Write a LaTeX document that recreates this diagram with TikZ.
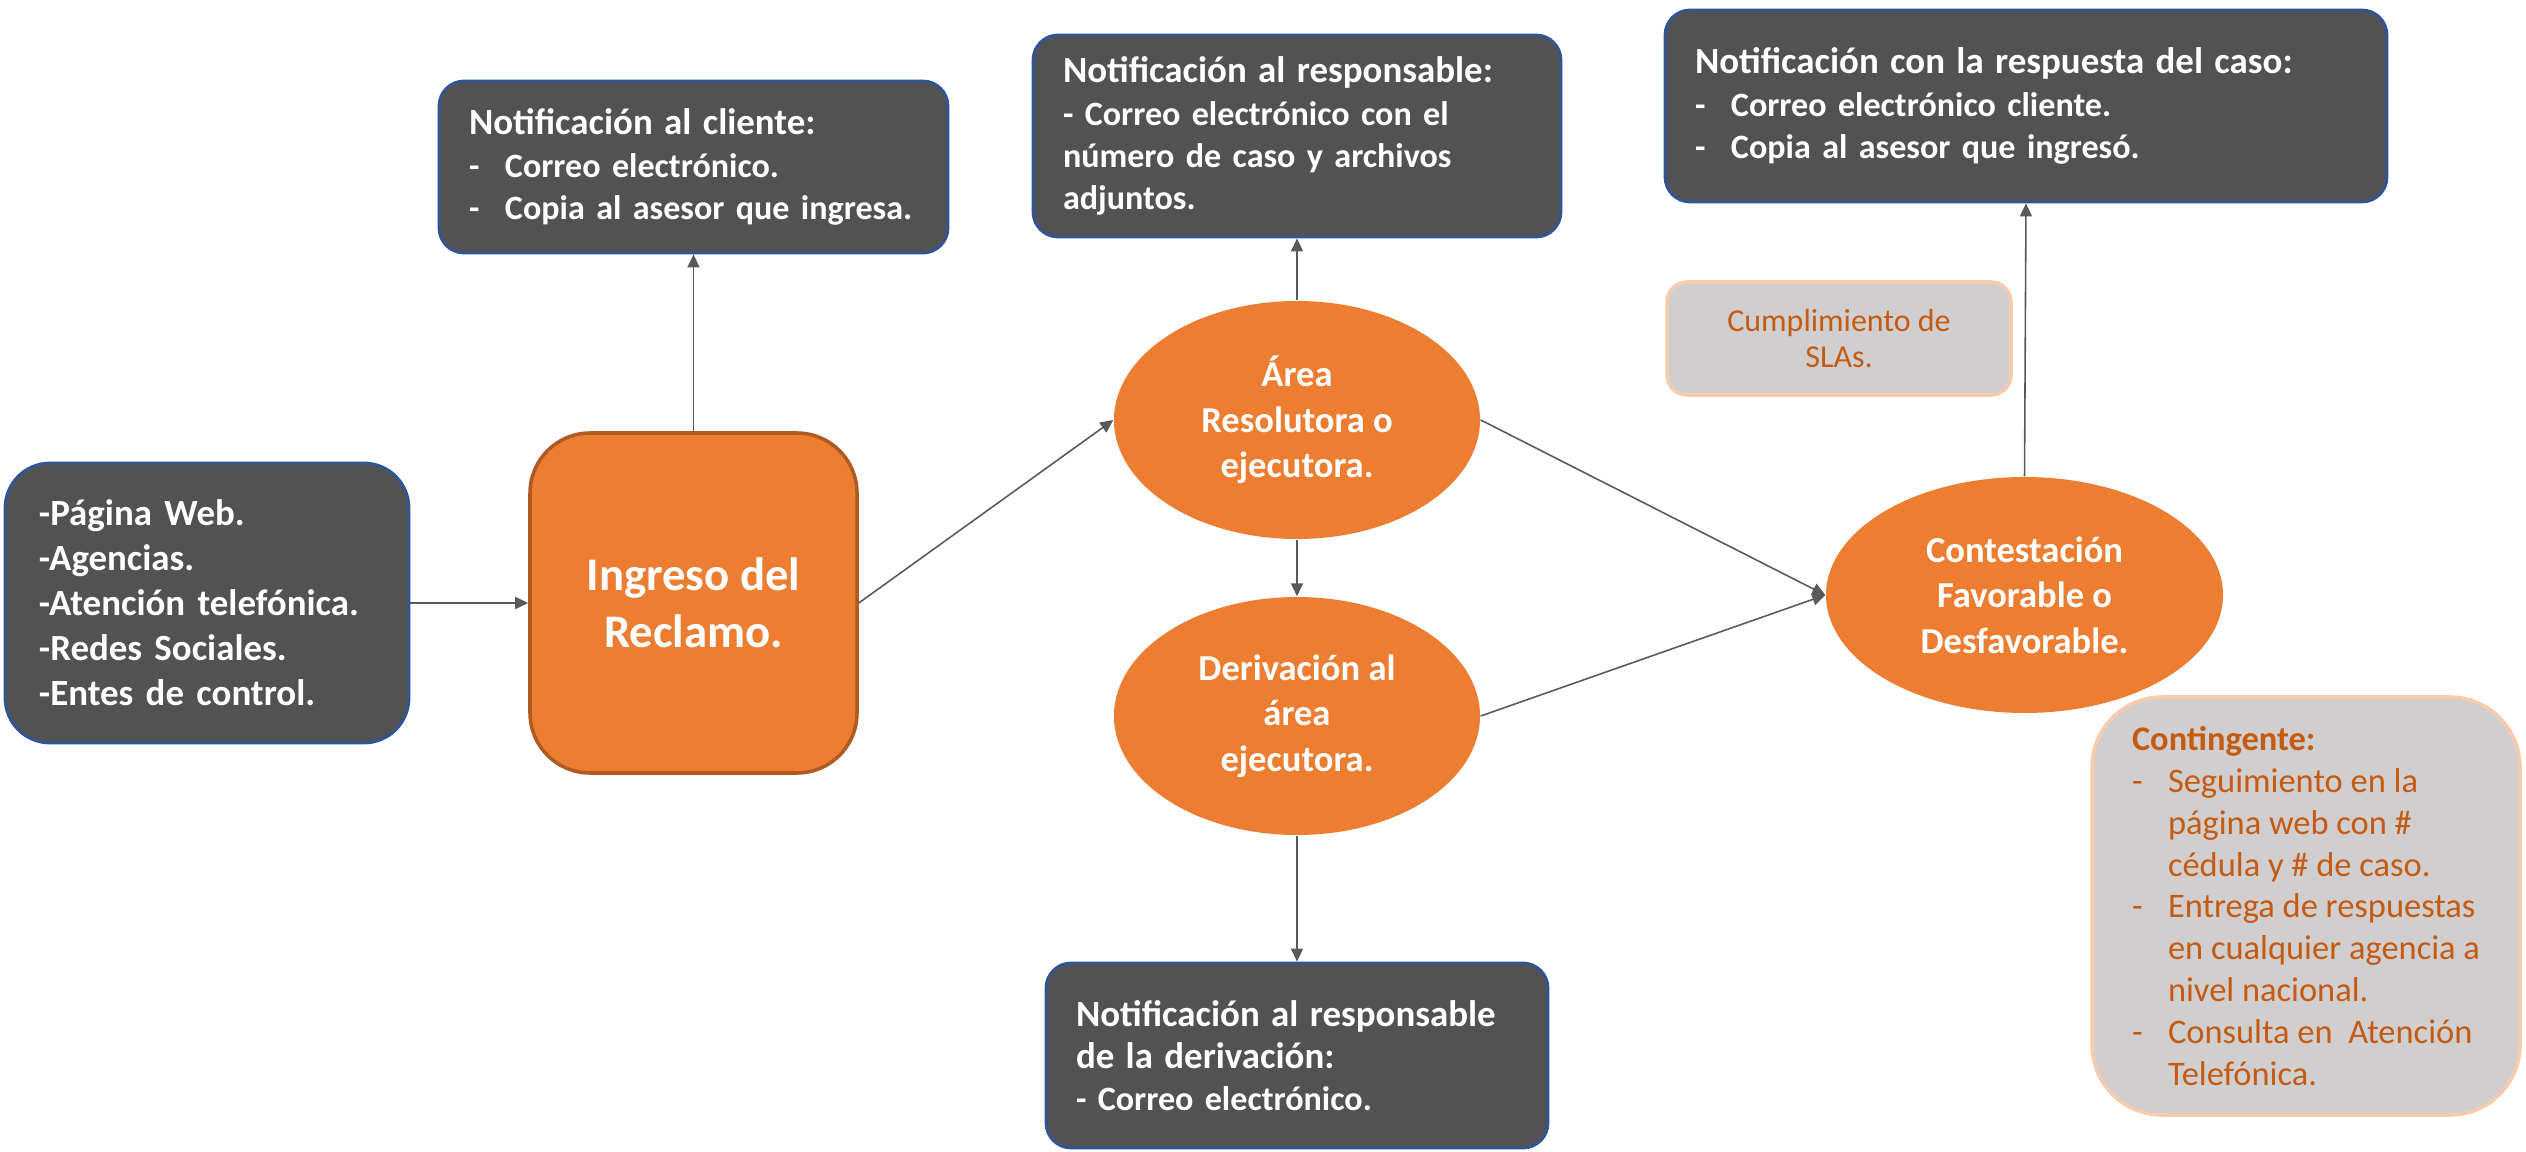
\documentclass[tikz,border=0pt]{standalone}
\usepackage{fontspec}
\setmainfont{Carlito}
\usetikzlibrary{shapes.geometric,arrows.meta}

\definecolor{grisoscuro}{RGB}{82,82,82}
\definecolor{azulborde}{RGB}{47,85,151}
\definecolor{naranja}{RGB}{237,125,49}
\definecolor{naranjaborde}{RGB}{174,90,33}
\definecolor{grisclaro}{RGB}{208,206,206}
\definecolor{salmon}{RGB}{248,203,173}
\definecolor{textonota}{RGB}{197,90,17}
\definecolor{linea}{RGB}{89,89,89}

\newcommand{\guion}{\makebox[0.36cm][l]{-}}
\newcommand{\sangria}{\hspace*{0.36cm}}
\newcommand{\titulo}[1]{{\fontsize{10.5}{12}\selectfont #1}}

\begin{document}
\begin{tikzpicture}[
    aviso/.style={rectangle, rounded corners=0.25cm, draw=azulborde, line width=0.8pt, fill=grisoscuro, text=white, align=left, inner xsep=0.3cm, font=\bfseries\fontsize{9.7}{12}\selectfont},
    etapa/.style={ellipse, fill=naranja, text=white, align=center, minimum width=3.66cm, minimum height=2.38cm, inner sep=0pt, font=\bfseries\fontsize{10.4}{13}\selectfont},
    nota/.style={rectangle, draw=salmon, line width=1pt, fill=grisclaro, text=textonota, align=left},
    flecha/.style={draw=linea, line width=0.45pt, -{Triangle[length=0.13cm,width=0.12cm]}}
]
    \useasboundingbox (0,0) rectangle (25.26,11.51);

    \node[aviso, rounded corners=0.45cm, inner xsep=0.34cm, text width=3.36cm, minimum height=2.8cm, font=\bfseries\fontsize{10.5}{12.8}\selectfont] (canales) at (2.07,5.48) {-Página Web.\\-Agencias.\\-Atención telefónica.\\-Redes Sociales.\\-Entes de control.};
    \node[rectangle, rounded corners=0.6cm, draw=naranjaborde, line width=1pt, fill=naranja, text=white, align=center, minimum width=3.27cm, minimum height=3.4cm, font=\bfseries\fontsize{13.3}{16.1}\selectfont] (ingreso) at (6.935,5.48) {Ingreso del\\Reclamo.};
    \node[aviso, text width=4.49cm, minimum height=1.72cm] (cliente) at (6.935,9.84) {\titulo{Notificación al cliente:}\\\guion Correo electrónico.\\\guion Copia al asesor que ingresa.};

    \node[etapa] (area) at (12.97,7.31) {Área\\Resolutora o\\ejecutora.};
    \node[aviso, text width=4.68cm, minimum height=2.02cm] (responsable) at (12.97,10.15) {\titulo{Notificación al responsable:}\\- Correo electrónico con el\\número de caso y archivos\\adjuntos.};
    \node[etapa] (derivacion) at (12.97,4.35) {Derivación al\\área\\ejecutora.};
    \node[aviso, text width=4.42cm, minimum height=1.85cm] (avisoderiv) at (12.97,0.955) {\titulo{Notificación al responsable}\\\titulo{de la derivación:}\\- Correo electrónico.};

    \node[etapa, minimum width=3.97cm, minimum height=2.36cm] (contestacion) at (20.245,5.56) {Contestación\\Favorable o\\Desfavorable.};
    \node[aviso, text width=6.62cm, minimum height=1.92cm] (respuesta) at (20.26,10.45) {\titulo{Notificación con la respuesta del caso:}\\\guion Correo electrónico cliente.\\\guion Copia al asesor que ingresó.};
    \node[nota, rounded corners=0.2cm, align=center, minimum width=3.44cm, minimum height=1.13cm, font=\fontsize{9.1}{10.4}\selectfont] (slas) at (18.39,8.125) {Cumplimiento de\\SLAs.};
    \node[nota, rounded corners=0.7cm, minimum width=4.28cm, minimum height=4.18cm, font=\fontsize{9.8}{11.9}\selectfont] (contingente) at (23.06,2.45) {\textbf{Contingente:}\\\guion Seguimiento en la\\\sangria página web con \#\\\sangria cédula y \# de caso.\\\guion Entrega de respuestas\\\sangria en cualquier agencia a\\\sangria nivel nacional.\\\guion Consulta en\ \ Atención\\\sangria Telefónica.};

    \draw[flecha] (canales) -- (ingreso);
    \draw[flecha] (ingreso.north) -- (cliente.south);
    \draw[flecha] (ingreso.east) -- (area.west);
    \draw[flecha] (area.north) -- (responsable.south);
    \draw[flecha] (area.south) -- (derivacion.north);
    \draw[flecha] (derivacion.south) -- (avisoderiv.north);
    \draw[flecha] (area.east) -- (contestacion.west);
    \draw[flecha] (derivacion.east) -- (contestacion.west);
    \draw[flecha] (contestacion.north) -- (respuesta.south);
\end{tikzpicture}
\end{document}
